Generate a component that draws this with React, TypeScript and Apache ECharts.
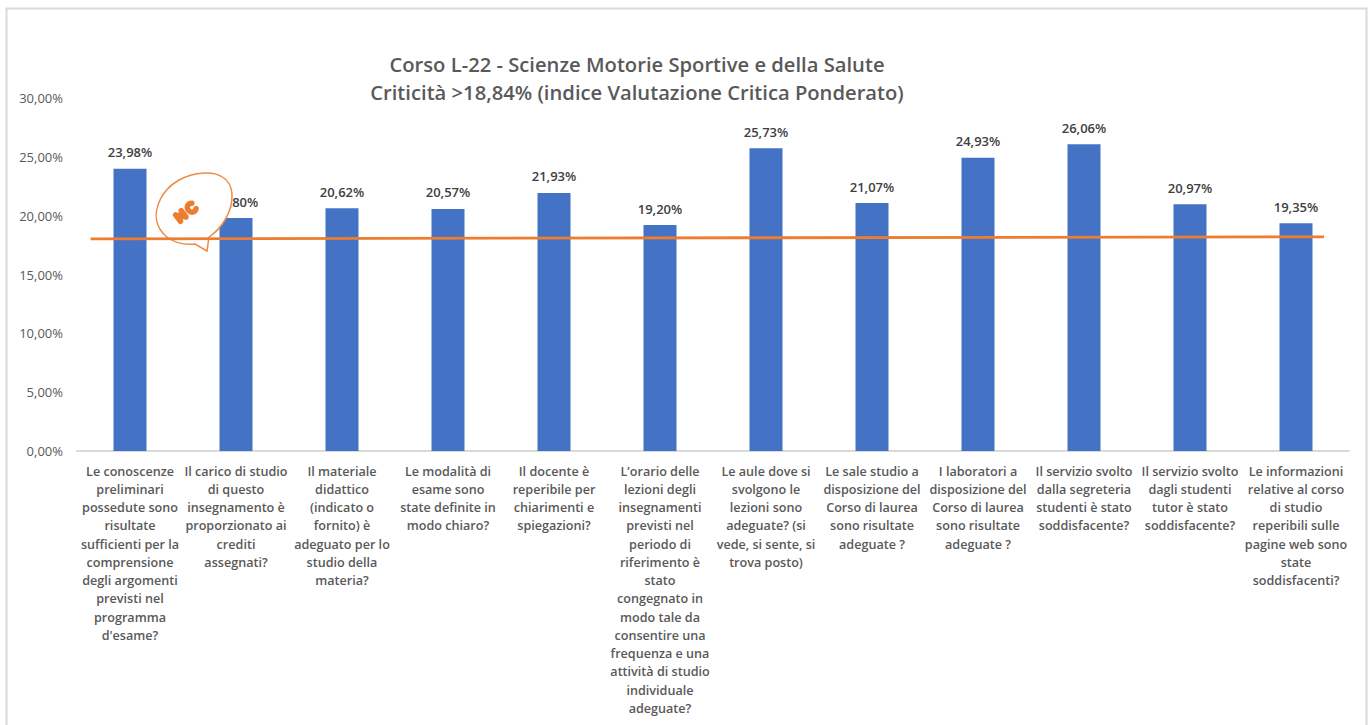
import React, { useEffect, useRef } from "react";
import * as echarts from "echarts";

const titleText = "Corso L-22 - Scienze Motorie Sportive e della Salute\nCriticità >18,84% (indice Valutazione Critica Ponderato)";

const categories = [
  "Le conoscenze\npreliminari\npossedute sono\nrisultate\nsufficienti per la\ncomprensione\ndegli argomenti\nprevisti nel\nprogramma\nd'esame?",
  "Il carico di studio\ndi questo\ninsegnamento è\nproporzionato ai\ncrediti\nassegnati?",
  "Il materiale\ndidattico\n(indicato o\nfornito) è\nadeguato per lo\nstudio della\nmateria?",
  "Le modalità di\nesame sono\nstate definite in\nmodo chiaro?",
  "Il docente è\nreperibile per\nchiarimenti e\nspiegazioni?",
  "L’orario delle\nlezioni degli\ninsegnamenti\nprevisti nel\nperiodo di\nriferimento è\nstato\ncongegnato in\nmodo tale da\nconsentire una\nfrequenza e una\nattività di studio\nindividuale\nadeguate?",
  "Le aule dove si\nsvolgono le\nlezioni sono\nadeguate? (si\nvede, si sente, si\ntrova posto)",
  "Le sale studio a\ndisposizione del\nCorso di laurea\nsono risultate\nadeguate ?",
  "I laboratori a\ndisposizione del\nCorso di laurea\nsono risultate\nadeguate ?",
  "Il servizio svolto\ndalla segreteria\nstudenti è stato\nsoddisfacente?",
  "Il servizio svolto\ndagli studenti\ntutor è stato\nsoddisfacente?",
  "Le informazioni\nrelative al corso\ndi studio\nreperibili sulle\npagine web sono\nstate\nsoddisfacenti?",
];

const criticita = [23.98, 19.8, 20.62, 20.57, 21.93, 19.2, 25.73, 21.07, 24.93, 26.06, 20.97, 19.35];

// trend line: [category position, value]
const trendLine = [
  [-0.372, 18.03],
  [11.264, 18.2],
];

const fmt = (v: number) => v.toFixed(2).replace(".", ",") + "%";

const bubblePath =
  "M209 237 C221 229 233 212 232 194 C231 179 219 172 204 173 C186 174 168 183 160 200 C153 215 156 228 167 237 C175 243 186 245 195 244 L207 251 Z";
const ncPath =
  "M-10 4 L-10 -4 L-3 4 L-3 -4 M10 -3.5 C7 -6 3 -4 3 0 C3 4 7 6 10 3.5";

echarts.graphic.registerShape("bubble", echarts.graphic.extendPath(bubblePath, {}));
echarts.graphic.registerShape("ncmark", echarts.graphic.extendPath(ncPath, {}));

const FONT = "'Open Sans', sans-serif";

export default function App() {
  const ref = useRef<HTMLDivElement>(null);
  useEffect(() => {
    const chart = echarts.init(ref.current!, undefined, { renderer: "svg" });
    chart.setOption({
      animation: false,
      backgroundColor: "#ffffff",
      title: {
        text: titleText,
        left: 632,
        top: 45,
        textAlign: "center",
        textStyle: { fontFamily: FONT, fontSize: 20.2, fontWeight: 600, color: "#595959", lineHeight: 28 },
      },
      grid: { left: 77, right: 20, top: 98, bottom: 274, containLabel: false },
      xAxis: [
        {
          type: "category",
          data: categories,
          axisLine: { lineStyle: { color: "#d9d9d9", width: 2 } },
          axisTick: { show: false },
          axisLabel: {
            interval: 0,
            margin: 11,
            fontFamily: FONT,
            fontSize: 12.6,
            fontWeight: 600,
            color: "#595959",
            lineHeight: 18.25,
            align: "center",
          },
        },
        { type: "value", min: -0.5, max: 11.5, show: false },
      ],
      yAxis: {
        type: "value",
        min: 0,
        max: 30,
        interval: 5,
        splitLine: { show: false },
        axisLine: { show: false },
        axisTick: { show: false },
        axisLabel: {
          margin: 14,
          fontFamily: FONT,
          fontSize: 13,
          color: "#595959",
          formatter: (v: number) => fmt(v),
        },
      },
      series: [
        {
          type: "bar",
          data: criticita,
          barWidth: 33,
          z: 2,
          itemStyle: { color: "#4472C4" },
          label: {
            show: true,
            position: "top",
            distance: 10,
            fontFamily: FONT,
            fontSize: 13,
            fontWeight: 600,
            color: "#404040",
            formatter: (p: any) => fmt(p.value),
          },
        },
        {
          type: "line",
          xAxisIndex: 1,
          data: trendLine,
          z: 10,
          symbol: "none",
          lineStyle: { color: "#ED7D31", width: 2.8 },
        },
      ],
      graphic: [
        {
          type: "rect",
          z: 0,
          silent: true,
          shape: { x: 6.5, y: 8.5, width: 1360, height: 730 },
          style: { fill: "none", stroke: "#d9d9d9", lineWidth: 2 },
        },
        {
          type: "bubble",
          z: 5,
          silent: true,
          x: 0,
          y: 0,
          style: { fill: "#ffffff", stroke: "#ED8B45", lineWidth: 1.5 },
        },
        {
          type: "ncmark",
          z: 6,
          silent: true,
          x: 186,
          y: 212,
          rotation: 0.65,
          style: { fill: "none", stroke: "#ED7D31", lineWidth: 5.5, lineCap: "round", lineJoin: "round" },
        },
      ],
    });
    return () => chart.dispose();
  }, []);
  return <div ref={ref} style={{ position: "fixed", left: 0, top: 0, width: 1369, height: 725 }} />;
}
